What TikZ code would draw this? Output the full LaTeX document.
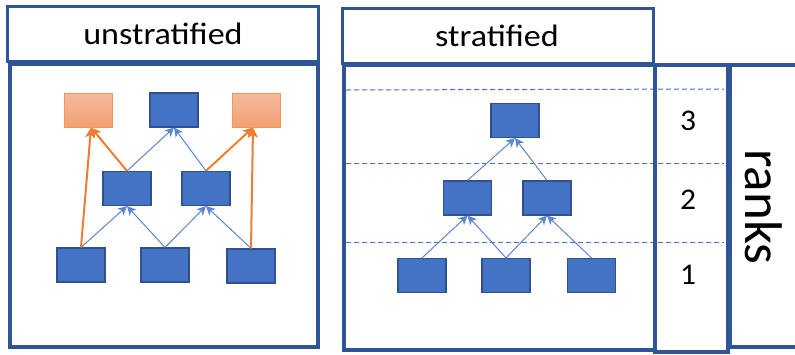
\documentclass[tikz,border=0pt]{standalone}
\usepackage{fontspec}
\setmainfont{Carlito}
\usetikzlibrary{arrows.meta}
\definecolor{frameblue}{HTML}{2F5597}
\definecolor{nodeblue}{HTML}{4472C4}
\definecolor{nodeedge}{HTML}{2F528F}
\definecolor{linkblue}{HTML}{5A85D0}
\definecolor{orangeline}{HTML}{ED7D31}
\definecolor{orangetop}{HTML}{F6BA9E}
\definecolor{orangebot}{HTML}{F19F74}
\definecolor{dashblue}{HTML}{4472C4}
\tikzset{
  headbox/.style={draw=frameblue, line width=3pt},
  bodybox/.style={draw=frameblue, line width=4.5pt},
  bluebox/.style={draw=nodeedge, fill=nodeblue, line width=1.2pt, minimum width=48pt, minimum height=34pt, inner sep=0pt},
  orangebox/.style={draw=orangeline!80, top color=orangetop, bottom color=orangebot, line width=1pt, minimum width=48pt, minimum height=34pt, inner sep=0pt},
  bluearrow/.style={draw=linkblue, line width=1pt, -{Stealth[width=9pt,length=9pt,inset=2.5pt]}},
  orangearrow/.style={draw=orangeline, line width=2pt, -{Stealth[width=10pt,length=10pt,inset=2.5pt]}},
  rankline/.style={draw=dashblue, line width=1pt, dash pattern=on 5pt off 3pt},
  label/.style={font=\fontsize{31}{34}\selectfont, inner sep=0pt, xscale=1.1},
  ranknum/.style={font=\fontsize{30}{32}\selectfont, inner sep=0pt, xscale=1.05},
}
\begin{document}
\begin{tikzpicture}[x=1pt, y=-1pt]
\useasboundingbox (0,0) rectangle (795,354);

% ---------- unstratified panel ----------
\draw[headbox] (7,6) rectangle (318,61);
\node[label] (ulabel) at (163,34) {unstratified};
\draw[bodybox] (10,64) rectangle (318,347);

\node[orangebox] (uo1) at (88,110) {};
\node[bluebox]   (ut)  at (174,110) {};
\node[orangebox] (uo2) at (256,110) {};
\node[bluebox]   (um1) at (127,188.5) {};
\node[bluebox]   (um2) at (206,188.5) {};
\node[bluebox]   (ub1) at (81,265) {};
\node[bluebox]   (ub2) at (165,265) {};
\node[bluebox]   (ub3) at (251,266) {};

\draw[bluearrow] (ub1.north) -- (um1.south);
\draw[bluearrow] (ub2.north) -- (um1.south);
\draw[bluearrow] (ub2.north) -- (um2.south);
\draw[bluearrow] (ub3.north) -- (um2.south);
\draw[bluearrow] (um1.north) -- (ut.south);
\draw[bluearrow] (um2.north) -- (ut.south);
\draw[orangearrow] (ub1.north) -- ([xshift=3pt]uo1.south);
\draw[orangearrow] (um1.north) -- ([xshift=3pt]uo1.south);
\draw[orangearrow] (ub3.north) -- ([xshift=-3pt]uo2.south);
\draw[orangearrow] (um2.north) -- ([xshift=-3pt]uo2.south);

% ---------- stratified panel ----------
\draw[headbox] (342,8) rectangle (653,63);
\node[label] (slabel) at (497,36) {stratified};
\draw[bodybox] (344,65) rectangle (655,350);

\draw[rankline] (346,90) -- (724,89);
\draw[rankline] (346,163) -- (724,163);
\draw[rankline] (346,242) -- (724,242);

\node[bluebox] (st)  at (515,120.5) {};
\node[bluebox] (sm1) at (467.5,198) {};
\node[bluebox] (sm2) at (547,198) {};
\node[bluebox] (sb1) at (422,275.5) {};
\node[bluebox] (sb2) at (506,275.5) {};
\node[bluebox] (sb3) at (591.5,275.5) {};

\draw[bluearrow] (sb1.north) -- (sm1.south);
\draw[bluearrow] (sb2.north) -- (sm1.south);
\draw[bluearrow] (sb2.north) -- (sm2.south);
\draw[bluearrow] (sb3.north) -- (sm2.south);
\draw[bluearrow] (sm1.north) -- (st.south);
\draw[bluearrow] (sm2.north) -- (st.south);

% ---------- rank column ----------
\draw[bodybox, line width=4pt] (655,65) rectangle (728,352);
\node[ranknum] (r3) at (688,121) {3};
\node[ranknum] (r2) at (688,200) {2};
\node[ranknum] (r1) at (688,275) {1};

\draw[bodybox, line width=4pt] (798,65) -- (730,65) -- (730,347) -- (798,347);
\node[font=\fontsize{53}{56}\selectfont, inner sep=0pt, rotate=-90] (ranks) at (764,207) {ranks};
\end{tikzpicture}
\end{document}
